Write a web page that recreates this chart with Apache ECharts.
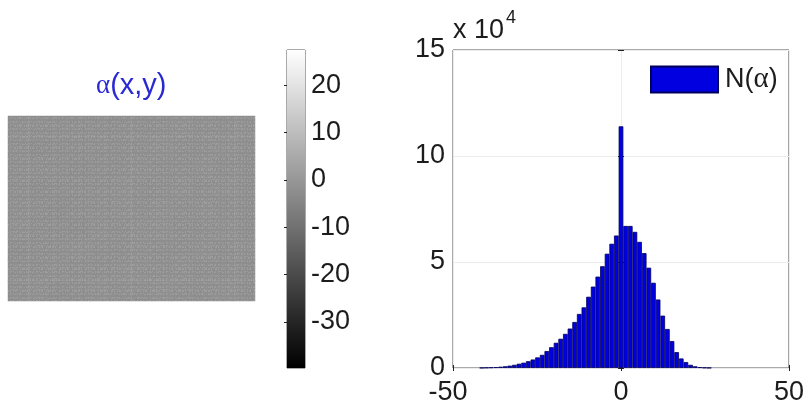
<!DOCTYPE html>
<html>
<head>
<meta charset="utf-8">
<style>
html,body{margin:0;padding:0;background:#fff}
#chart{width:807px;height:408px;filter:blur(0.45px)}
</style>
<script src="https://cdn.jsdelivr.net/npm/echarts@6/dist/echarts.min.js"></script>
</head>
<body>
<div id="chart"></div>
<script>
// Histogram N(alpha): bin centres and counts (in units of 10^4)
var binCenters = [-41.40,-40.02,-38.64,-37.26,-35.88,-34.50,-33.12,-31.74,-30.36,-28.98,
  -27.60,-26.22,-24.84,-23.46,-22.08,-20.70,-19.32,-17.94,-16.56,-15.18,
  -13.80,-12.42,-11.04,-9.66,-8.28,-6.90,-5.52,-4.14,-2.76,-1.38,
  0,1.38,2.76,4.14,5.52,6.90,8.28,9.66,11.04,12.42,
  13.80,15.18,16.56,17.94,19.32,20.70,22.08,23.46,24.84,26.22];
var binCounts = [0.01,0.02,0.03,0.04,0.06,0.08,0.11,0.15,0.20,0.25,
  0.32,0.40,0.50,0.62,0.80,0.98,1.19,1.38,1.61,1.86,
  2.17,2.55,2.86,3.36,3.84,4.31,4.80,5.39,5.86,6.25,
  11.40,6.70,6.70,6.42,5.95,5.42,4.73,4.02,3.23,2.47,
  1.84,1.27,0.75,0.45,0.28,0.15,0.08,0.04,0.02,0.01];
var xTicks = [-50,0,50];
var yTicks = [0,5,10,15];

// alpha(x,y) panel: coarse local mean levels (the fine noise is not readable)
var fieldRow0 = [-2.4,-2.2,-2.5,-2.3,-2.2,-2.4,-2.3,-2.1,-2.3,-2.4,-2.2,-2.4];
var fieldRow1 = [-2.3,-2.4,-2.2,-2.4,-2.3,-2.1,-2.2,-2.4,-2.2,-2.3,-2.4,-2.3];
var fieldRow2 = [-2.5,-2.3,-2.4,-2.2,-2.4,-2.3,-2.1,-2.3,-2.4,-2.2,-2.3,-2.2];
var fieldRow3 = [-2.2,-2.4,-2.3,-2.5,-2.2,-2.3,-2.2,-2.2,-2.3,-2.4,-2.2,-2.4];
var fieldRow4 = [-2.4,-2.3,-2.5,-2.4,-2.3,-2.2,-2.4,-2.2,-2.3,-2.2,-2.3,-2.3];
var fieldRow5 = [-2.3,-2.5,-2.4,-2.3,-2.4,-2.2,-2.3,-2.4,-2.2,-2.3,-2.2,-2.4];
var fieldRow6 = [-2.4,-2.4,-2.3,-2.5,-2.3,-2.4,-2.2,-2.3,-2.3,-2.2,-2.4,-2.3];
var fieldRow7 = [-2.3,-2.5,-2.4,-2.3,-2.4,-2.3,-2.4,-2.2,-2.4,-2.3,-2.2,-2.3];
var fieldRow8 = [-2.4,-2.3,-2.4,-2.4,-2.3,-2.4,-2.3,-2.3,-2.2,-2.4,-2.3,-2.2];
var fieldRows = [fieldRow0,fieldRow1,fieldRow2,fieldRow3,fieldRow4,fieldRow5,fieldRow6,fieldRow7,fieldRow8];

// Colour bar
var colorRange = [-39.7,27.4];
var colorTicks = [-30,-20,-10,0,10,20];

var SANS = '"Liberation Sans", Arial, sans-serif';
var SERIF = '"Liberation Serif", serif';
var INK = '#1c1c1c';
var FRAME = '#555555';
var TITLE_BLUE = '#2a2ad2';

var fieldData = [];
fieldRows.forEach(function (row, r) {
  row.forEach(function (v, c) { fieldData.push([c, r, v]); });
});
var histData = binCenters.map(function (x, i) { return [x, binCounts[i]]; });

var chart = echarts.init(document.getElementById('chart'));
chart.setOption({
  animation: false,
  backgroundColor: '#fff',
  textStyle: {fontFamily: SANS},
  grid: [
    {left: 8, top: 116, width: 247, height: 185},
    {left: 287, top: 50, width: 18, height: 318, show: true, borderColor: FRAME, borderWidth: 1, backgroundColor: 'transparent'},
    {left: 453, top: 50, width: 338, height: 318, show: true, borderColor: FRAME, borderWidth: 1, backgroundColor: 'transparent'}
  ],
  xAxis: [
    {gridIndex: 0, type: 'category', show: false, data: fieldRows[0].map(function (_, i) { return i; })},
    {gridIndex: 1, type: 'value', show: false, min: 0, max: 1},
    {gridIndex: 2, type: 'value', min: -50, max: 50, interval: 50, position: 'bottom',
      axisLine: {show: false},
      axisTick: {show: true, inside: true, length: 3, lineStyle: {color: '#222'}},
      axisLabel: {color: INK, fontSize: 27, fontFamily: SANS, margin: 11, customValues: xTicks,
        formatter: function (v) { return v < 0 ? '{neg|' + v + '}' : String(v); },
        rich: {neg: {fontSize: 27, fontFamily: SANS, color: INK, padding: [0, 10, 0, 0]}}},
      splitLine: {show: true, lineStyle: {color: '#ececec', width: 1}}},
    {gridIndex: 2, type: 'value', min: -50, max: 50, interval: 50, position: 'top',
      axisLine: {show: false},
      axisTick: {show: true, inside: true, length: 3, lineStyle: {color: '#222'}},
      axisLabel: {show: false}, splitLine: {show: false}}
  ],
  yAxis: [
    {gridIndex: 0, type: 'category', show: false, data: fieldRows.map(function (_, i) { return i; })},
    {gridIndex: 1, type: 'value', min: colorRange[0], max: colorRange[1], position: 'right',
      axisLine: {show: false},
      axisTick: {show: true, inside: true, length: 3, customValues: colorTicks, lineStyle: {color: '#222'}},
      axisLabel: {color: INK, fontSize: 27, fontFamily: SANS, margin: 6, padding: [3, 0, 0, 0], customValues: colorTicks},
      splitLine: {show: false}},
    {gridIndex: 1, type: 'value', min: colorRange[0], max: colorRange[1], position: 'left',
      axisLine: {show: false},
      axisTick: {show: true, inside: true, length: 3, customValues: colorTicks, lineStyle: {color: '#222'}},
      axisLabel: {show: false}, splitLine: {show: false}},
    {gridIndex: 2, type: 'value', min: 0, max: 15, interval: 5, position: 'left',
      axisLine: {show: false},
      axisTick: {show: true, inside: true, length: 3, lineStyle: {color: '#222'}},
      axisLabel: {color: INK, fontSize: 27, fontFamily: SANS, margin: 8, padding: [3, 0, 0, 0], customValues: yTicks},
      splitLine: {show: true, lineStyle: {color: '#ececec', width: 1}}},
    {gridIndex: 2, type: 'value', min: 0, max: 15, interval: 5, position: 'right',
      axisLine: {show: false},
      axisTick: {show: true, inside: true, length: 3, lineStyle: {color: '#222'}},
      axisLabel: {show: false}, splitLine: {show: false}}
  ],
  visualMap: {
    show: false, type: 'continuous', seriesIndex: 0,
    min: colorRange[0], max: colorRange[1],
    inRange: {color: ['#000000', '#ffffff']}
  },
  legend: {
    left: 645, top: 60, itemWidth: 67, itemHeight: 26, itemGap: 0, icon: 'rect',
    selectedMode: false, data: ['N(α)'],
    formatter: function () { return '{n|N(}{a|α}{n|)}'; },
    textStyle: {
      padding: [0, 0, 0, 2],
      rich: {
        n: {fontSize: 27, fontFamily: SANS, color: INK},
        a: {fontSize: 29, fontFamily: SERIF, color: INK}
      }
    }
  },
  series: [
    {type: 'heatmap', xAxisIndex: 0, yAxisIndex: 0, data: fieldData,
      itemStyle: {
        borderWidth: 0,
        decal: {
          symbol: 'rect', symbolSize: 1, rotation: 0,
          color: 'rgba(255,255,255,0.12)',
          dashArrayX: [[1,2,2,1,1,3,1,1,3,1,2,1,1,2,1,2],
                       [2,1,1,3,2,1,1,2,1,1,2,3,1,1,3,1],
                       [1,1,3,2,1,2,2,1,1,3,1,1,2,1,1,3],
                       [3,1,1,1,2,2,1,3,2,1,1,1,3,2,1,1]],
          dashArrayY: [1, 0, 1, 1, 1, 0, 2, 1, 1, 0, 1, 2]
        }
      },
      emphasis: {disabled: true}},
    {type: 'custom', xAxisIndex: 1, yAxisIndex: 1, silent: true, data: [[0, colorRange[0], 1, colorRange[1]]],
      renderItem: function (params, api) {
        var a = api.coord([api.value(0), api.value(1)]);
        var b = api.coord([api.value(2), api.value(3)]);
        return {type: 'rect', z2: -1,
          shape: {x: a[0], y: b[1], width: b[0] - a[0], height: a[1] - b[1]},
          style: {fill: new echarts.graphic.LinearGradient(0, 0, 0, 1, [
            {offset: 0, color: '#ffffff'}, {offset: 1, color: '#000000'}
          ])}};
      }},
    {type: 'bar', name: 'N(α)', xAxisIndex: 2, yAxisIndex: 3, data: histData, barWidth: 4.67,
      itemStyle: {color: '#0000e0', borderColor: '#00005c', borderWidth: 0.8}}
  ],
  graphic: [
    {type: 'text', left: 96, top: 71, style: {
      text: '{a|α}{b|(x,y)}',
      rich: {
        a: {fontSize: 27, fontFamily: SERIF, fill: TITLE_BLUE, color: TITLE_BLUE},
        b: {fontSize: 29, fontFamily: SANS, fill: TITLE_BLUE, color: TITLE_BLUE}
      }}},
    {type: 'text', left: 453, top: 17, style: {text: 'x 10', font: '27px ' + SANS, fill: INK}},
    {type: 'text', left: 506, top: 9, style: {text: '4', font: '18px ' + SANS, fill: INK}}
  ]
});
</script>
</body>
</html>
